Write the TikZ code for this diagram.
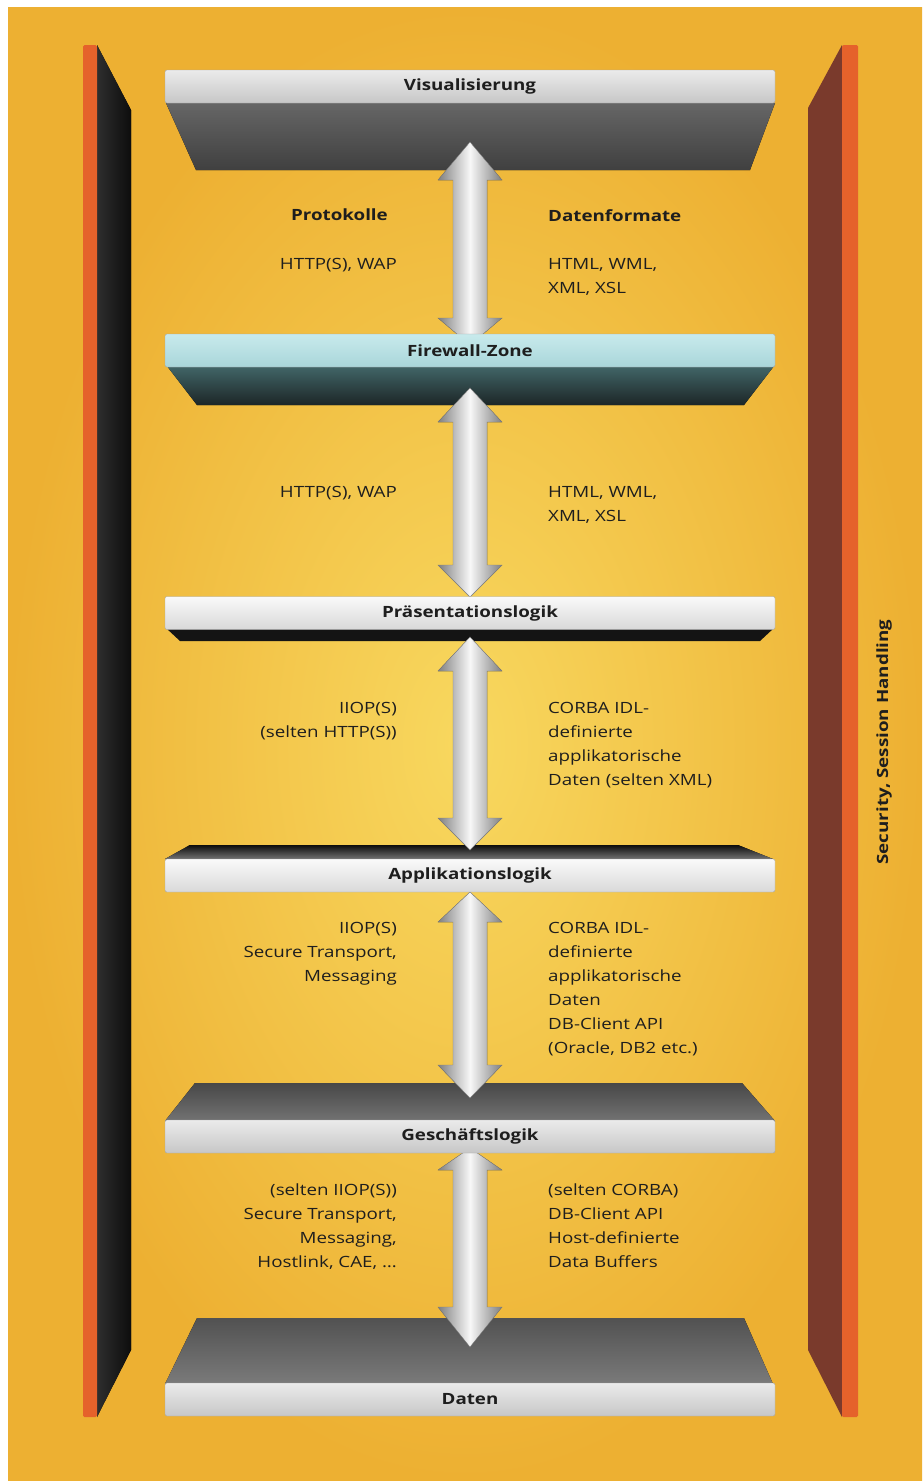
\documentclass[tikz,border=0pt]{standalone}
\usepackage{fontspec}
\setmainfont{Open Sans}[FakeStretch=1.21]
\usetikzlibrary{calc}
\definecolor{bgin}{HTML}{F8D85F}
\definecolor{bgout}{HTML}{EDB032}
\definecolor{wallorange}{HTML}{E5622B}
\definecolor{wallbrown}{HTML}{7A3A2C}
\definecolor{txt}{HTML}{1E1E1E}
\definecolor{fwtop}{HTML}{C8EAEC}
\definecolor{fwbot}{HTML}{A9D6DA}
\definecolor{fwslabtop}{HTML}{426668}
\definecolor{fwslabbot}{HTML}{1C2627}
\newcommand\dblarrow[4]{%
  \fill[arrowbody] (#1) -- ($(#1)+(32,#3)$) -- ($(#1)+(17,#3)$) -- ($(#2)+(17,-#4)$) -- ($(#2)+(32,-#4)$) -- (#2)
    -- ($(#2)+(-32,-#4)$) -- ($(#2)+(-17,-#4)$) -- ($(#1)+(-17,#3)$) -- ($(#1)+(-32,#3)$) -- cycle;}
\tikzset{
  face/.style={minimum width=610pt, minimum height=33pt, inner sep=0pt, rounded corners=2pt,
    top color=black!8, bottom color=black!22, draw=black!35, line width=0.4pt,
    font=\bfseries\fontsize{15.5}{18}\selectfont, text=txt},
  arrowbody/.style={left color=black!50, right color=black!50, middle color=black!3, draw=black!50, line width=0.4pt},
  lefttxt/.style={anchor=north east, inner sep=0pt, align=right, text=txt, font=\fontsize{15.5}{24}\selectfont},
  righttxt/.style={anchor=north west, inner sep=0pt, align=left, text=txt, font=\fontsize{15.5}{24}\selectfont},
  headtxt/.style={inner sep=0pt, text=txt, font=\bfseries\fontsize{15.5}{24}\selectfont}
}
\begin{document}
\begin{tikzpicture}[x=1pt,y=-1pt]
\useasboundingbox (0,0) rectangle (922,1481);
\fill[white] (0,0) rectangle (922,1481);
\fill[inner color=bgin, outer color=bgout] (8,7) rectangle (922,1481);

% walls
\fill[left color=black!82, right color=black!95] (97,45) -- (131,110) -- (131,1350) -- (97,1417) -- cycle;
\fill[wallorange, rounded corners=1.5pt] (83,45) rectangle (97,1417);
\fill[wallbrown] (842,45) -- (808,108) -- (808,1350) -- (842,1417) -- cycle;
\fill[wallorange, rounded corners=1.5pt] (842,45) rectangle (858,1417);

% slabs (lower/upper visible faces)
\fill[top color=black!60, bottom color=black!75] (166,103) -- (775,103) -- (750,170) -- (196,170) -- cycle;
\fill[top color=fwslabtop, bottom color=fwslabbot] (167,366) -- (774,366) -- (744,405) -- (197,405) -- cycle;
\fill[black!92] (166,628) -- (774,628) -- (760,641) -- (180,641) -- cycle;
\fill[top color=black!95, bottom color=black!55] (190,845) -- (738,845) -- (773,859) -- (165,859) -- cycle;
\fill[top color=black!72, bottom color=black!55] (195,1083) -- (742,1083) -- (775,1121) -- (165,1121) -- cycle;
\fill[top color=black!68, bottom color=black!52] (197,1318) -- (744,1318) -- (773,1384) -- (165,1384) -- cycle;

% arrow end points
\coordinate (a1t) at (470,142);
\coordinate (a1b) at (470,345);
\coordinate (a2t) at (470,388);
\coordinate (a2b) at (470,597);
\coordinate (a3t) at (470,637);
\coordinate (a3b) at (470,850);
\coordinate (a4t) at (470,892);
\coordinate (a4b) at (470,1098);
\coordinate (a5t) at (470,1148);
\coordinate (a5b) at (470,1347);

\dblarrow{a1t}{a1b}{38}{27}
\dblarrow{a2t}{a2b}{34}{32}
\dblarrow{a3t}{a3b}{34}{32}
\dblarrow{a4t}{a4b}{30}{33}
\dblarrow{a5t}{a5b}{22}{40}

% faces
\node[face] (vis) at (470,86.5) {Visualisierung};
\node[face, top color=fwtop, bottom color=fwbot] (fw) at (470,350.5) {Firewall-Zone};
\node[face, top color=black!2, bottom color=black!15] (pres) at (470,613) {Präsentationslogik};
\node[face, top color=black!2, bottom color=black!15] (app) at (470,875.5) {Applikationslogik};
\node[face] (gesch) at (470,1136.5) {Geschäftslogik};
\node[face] (daten) at (470,1399.5) {Daten};

% labels
\node[headtxt, anchor=north east] (hp) at (388,209) {Protokolle};
\node[headtxt, anchor=north west] (hd) at (548,209) {Datenformate};

\node[lefttxt] (l1) at (397,258) {HTTP(S), WAP};
\node[righttxt] (r1) at (548,258) {HTML, WML,\\XML, XSL};

\node[lefttxt] (l2) at (397,486) {HTTP(S), WAP};
\node[righttxt] (r2) at (548,486) {HTML, WML,\\XML, XSL};

\node[lefttxt] (l3) at (397,702) {IIOP(S)\\(selten HTTP(S))};
\node[righttxt] (r3) at (548,702) {CORBA IDL-\\definierte\\applikatorische\\Daten (selten XML)};

\node[lefttxt] (l4) at (397,922) {IIOP(S)\\Secure Transport,\\Messaging};
\node[righttxt] (r4) at (548,922) {CORBA IDL-\\definierte\\applikatorische\\Daten\\DB-Client API\\(Oracle, DB2 etc.)};

\node[lefttxt] (l5) at (397,1184) {(selten IIOP(S))\\Secure Transport,\\Messaging,\\Hostlink, CAE, \dots};
\node[righttxt] (r5) at (548,1184) {(selten CORBA)\\DB-Client API\\Host-definierte\\Data Buffers};

\node[rotate=90, inner sep=0pt, text=txt, font=\bfseries\fontsize{15.5}{18}\selectfont] (sec) at (884,742) {Security, Session Handling};
\end{tikzpicture}
\end{document}
